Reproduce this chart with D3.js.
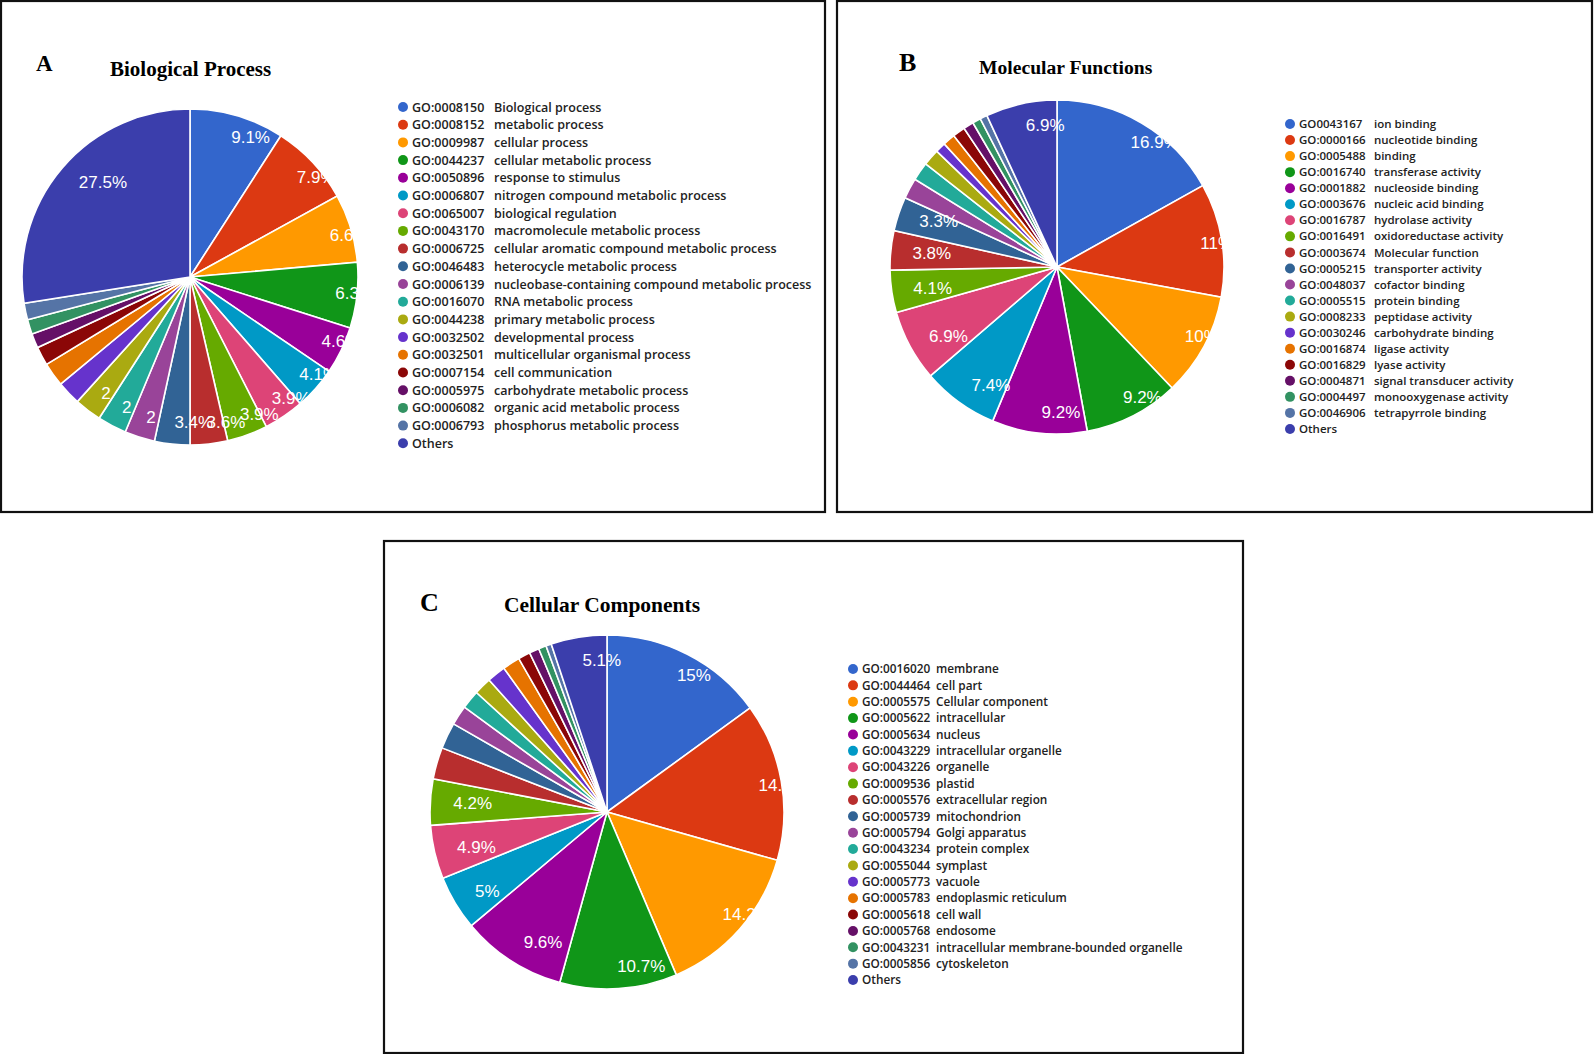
<!DOCTYPE html>
<html>
<head>
<meta charset="utf-8">
<script src="https://cdn.jsdelivr.net/npm/d3@7"></script>
<style>
  body { margin: 0; background: #fff; }
  svg { display: block; }
</style>
</head>
<body>
<div id="chart"></div>
<script>
// Google-chart default palette, one colour per slice, "Others" last
var sliceColors = ["#3366cc","#dc3912","#ff9900","#109618","#990099","#0099c6","#dd4477","#66aa00",
  "#b82e2e","#316395","#994499","#22aa99","#aaaa11","#6633cc","#e67300","#8b0707","#651067",
  "#329262","#5574a6","#3b3eac"];

// A - Biological Process
var idsA = ["GO:0008150","GO:0008152","GO:0009987","GO:0044237","GO:0050896","GO:0006807","GO:0065007",
  "GO:0043170","GO:0006725","GO:0046483","GO:0006139","GO:0016070","GO:0044238","GO:0032502",
  "GO:0032501","GO:0007154","GO:0005975","GO:0006082","GO:0006793","Others"];
var termsA = ["Biological process","metabolic process","cellular process","cellular metabolic process",
  "response to stimulus","nitrogen compound metabolic process","biological regulation",
  "macromolecule metabolic process","cellular aromatic compound metabolic process",
  "heterocycle metabolic process","nucleobase-containing compound metabolic process",
  "RNA metabolic process","primary metabolic process","developmental process",
  "multicellular organismal process","cell communication","carbohydrate metabolic process",
  "organic acid metabolic process","phosphorus metabolic process",""];
var valuesA = [9.1,7.9,6.6,6.3,4.6,4.1,3.9,3.9,3.6,3.4,2.9,2.8,2.6,2.3,2.3,1.8,1.4,1.4,1.6,27.5];
var labelsA = ["9.1%","7.9%","6.6%","6.3%","4.6%","4.1%","3.9%","3.9%","3.6%","3.4%","2","2","2",
  "","","","","","","27.5%"];

// B - Molecular Functions
var idsB = ["GO0043167","GO:0000166","GO:0005488","GO:0016740","GO:0001882","GO:0003676","GO:0016787",
  "GO:0016491","GO:0003674","GO:0005215","GO:0048037","GO:0005515","GO:0008233","GO:0030246",
  "GO:0016874","GO:0016829","GO:0004871","GO:0004497","GO:0046906","Others"];
var termsB = ["ion binding","nucleotide binding","binding","transferase activity","nucleoside binding",
  "nucleic acid binding","hydrolase activity","oxidoreductase activity","Molecular function",
  "transporter activity","cofactor binding","protein binding","peptidase activity",
  "carbohydrate binding","ligase activity","lyase activity","signal transducer activity",
  "monooxygenase activity","tetrapyrrole binding",""];
var valuesB = [16.9,11,10,9.2,9.2,7.4,6.9,4.1,3.8,3.3,2.0,1.8,1.6,1.0,1.2,1.2,1.0,0.8,0.7,6.9];
var labelsB = ["16.9%","11%","10%","9.2%","9.2%","7.4%","6.9%","4.1%","3.8%","3.3%",
  "","","","","","","","","","6.9%"];

// C - Cellular Components
var idsC = ["GO:0016020","GO:0044464","GO:0005575","GO:0005622","GO:0005634","GO:0043229","GO:0043226",
  "GO:0009536","GO:0005576","GO:0005739","GO:0005794","GO:0043234","GO:0055044","GO:0005773",
  "GO:0005783","GO:0005618","GO:0005768","GO:0043231","GO:0005856","Others"];
var termsC = ["membrane","cell part","Cellular component","intracellular","nucleus",
  "intracellular organelle","organelle","plastid","extracellular region","mitochondrion",
  "Golgi apparatus","protein complex","symplast","vacuole","endoplasmic reticulum","cell wall",
  "endosome","intracellular membrane-bounded organelle","cytoskeleton",""];
var valuesC = [15,14.4,14.2,10.7,9.6,5,4.9,4.2,2.9,2.4,1.8,1.7,1.6,1.7,1.6,1.1,0.9,0.7,0.5,5.1];
var labelsC = ["15%","14.4%","14.2%","10.7%","9.6%","5%","4.9%","4.2%",
  "","","","","","","","","","","","5.1%"];

var W = 1594, H = 1054;
var svg = d3.select("#chart").append("svg")
  .attr("width", W)
  .attr("height", H);

var panels = [
  { key: "A", title: "Biological Process", ids: idsA, terms: termsA, values: valuesA, labels: labelsA,
    box: [1, 1, 824, 511], letter: [36, 71, 23], head: [110, 76, 21],
    cx: 190, cy: 277, r: 168,
    leg: { x: 403, y: 107, step: 17.7, size: 12.5, gap: 82 } },
  { key: "B", title: "Molecular Functions", ids: idsB, terms: termsB, values: valuesB, labels: labelsB,
    box: [837, 1, 755, 511], letter: [899, 71, 26], head: [979, 74, 19.6],
    cx: 1057, cy: 267, r: 167,
    leg: { x: 1290, y: 124, step: 16.05, size: 11.5, gap: 75 } },
  { key: "C", title: "Cellular Components", ids: idsC, terms: termsC, values: valuesC, labels: labelsC,
    box: [384, 541, 859, 512], letter: [420, 611, 26], head: [504, 612, 21.5],
    cx: 607, cy: 812, r: 177,
    leg: { x: 853, y: 669, step: 16.37, size: 11.8, gap: 74 } }
];

var pie = d3.pie()
  .sort(null)
  .value(function(d) { return d; });

panels.forEach(function(p) {
  var g = svg.append("g").attr("class", "panel-" + p.key);

  g.append("rect")
    .attr("x", p.box[0]).attr("y", p.box[1])
    .attr("width", p.box[2]).attr("height", p.box[3])
    .attr("fill", "none")
    .attr("stroke", "#111")
    .attr("stroke-width", 2.2);

  g.append("text")
    .attr("x", p.letter[0]).attr("y", p.letter[1])
    .style("font-family", "'Liberation Serif', 'Times New Roman', serif")
    .style("font-weight", "bold")
    .style("font-size", p.letter[2] + "px")
    .text(p.key);

  g.append("text")
    .attr("x", p.head[0]).attr("y", p.head[1])
    .style("font-family", "'Liberation Serif', 'Times New Roman', serif")
    .style("font-weight", "bold")
    .style("font-size", p.head[2] + "px")
    .text(p.title);

  // labels get cut off at the right edge of the pie
  var clipId = "clip" + p.key;
  g.append("clipPath").attr("id", clipId)
    .append("rect")
    .attr("x", p.cx - p.r - 60).attr("y", p.cy - p.r - 40)
    .attr("width", 2 * p.r + 60).attr("height", 2 * p.r + 80);

  var arc = d3.arc().innerRadius(0).outerRadius(p.r);
  var arcs = pie(p.values);

  var pg = g.append("g").attr("transform", "translate(" + p.cx + "," + p.cy + ")");

  pg.selectAll("path")
    .data(arcs)
    .enter().append("path")
    .attr("d", arc)
    .attr("fill", function(d, i) { return sliceColors[i]; })
    .attr("stroke", "#fff")
    .attr("stroke-width", 1.6);

  var lg = g.append("g").attr("clip-path", "url(#" + clipId + ")")
    .append("g").attr("transform", "translate(" + p.cx + "," + p.cy + ")");

  // the label starts at the point where it would be centred, as in the original
  lg.selectAll("text")
    .data(arcs)
    .enter().append("text")
    .attr("transform", function(d) {
      var a = (d.startAngle + d.endAngle) / 2;
      var dist = p.r * 0.87;
      return "translate(" + (dist * Math.sin(a)) + "," + (-dist * Math.cos(a)) + ")";
    })
    .attr("text-anchor", "start")
    .attr("dy", "0.36em")
    .style("font-family", "'Liberation Sans', Arial, sans-serif")
    .style("font-size", "17px")
    .style("fill", "#fff")
    .text(function(d, i) { return p.labels[i]; });

  // legend
  var leg = g.append("g");
  var rows = leg.selectAll("g")
    .data(p.ids)
    .enter().append("g")
    .attr("transform", function(d, i) { return "translate(" + p.leg.x + "," + (p.leg.y + i * p.leg.step) + ")"; });

  rows.append("circle")
    .attr("r", 5)
    .attr("fill", function(d, i) { return sliceColors[i]; });

  rows.append("text")
    .attr("x", 9)
    .attr("dy", "0.36em")
    .style("font-family", "'Open Sans', 'Noto Sans', sans-serif")
    .style("font-weight", 600)
    .style("font-size", p.leg.size + "px")
    .style("fill", "#222")
    .text(function(d) { return d; });

  rows.append("text")
    .attr("x", 9 + p.leg.gap)
    .attr("dy", "0.36em")
    .style("font-family", "'Open Sans', 'Noto Sans', sans-serif")
    .style("font-weight", 600)
    .style("font-size", p.leg.size + "px")
    .style("fill", "#222")
    .text(function(d, i) { return p.terms[i]; });
});
</script>
</body>
</html>
